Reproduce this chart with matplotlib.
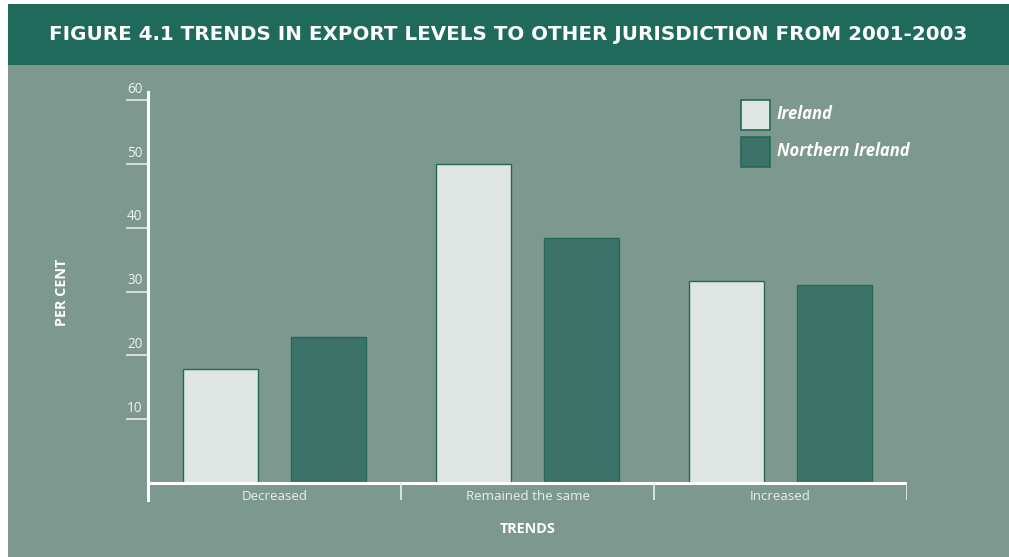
import matplotlib
matplotlib.use("Agg")
import matplotlib.pyplot as plt
from matplotlib.patches import Rectangle
from matplotlib.transforms import blended_transform_factory
import numpy as np

categories = ["Decreased", "Remained the same", "Increased"]
ireland = [17.8, 50.0, 31.6]
northern_ireland = [22.8, 38.4, 31.0]
series_names = ["Ireland", "Northern Ireland"]
yticks = [10, 20, 30, 40, 50, 60]
title = "FIGURE 4.1 TRENDS IN EXPORT LEVELS TO OTHER JURISDICTION FROM 2001-2003"

W, H = 1009, 557
fig = plt.figure(figsize=(W / 100, H / 100), dpi=100)
fig.patch.set_facecolor("white")

panel = "#7d998f"
header = "#1f6a5b"
light = "#dfe5e2"
dark = "#3c7268"
edge = "#23695a"
font = "Open Sans"

def fx(px):
    return px / W

def fy(py):
    return 1 - py / H

# background panel and header
fig.add_artist(Rectangle((fx(8), 0), 1 - fx(8), fy(4), transform=fig.transFigure,
                         facecolor=panel, edgecolor="none", zorder=0))
fig.add_artist(Rectangle((fx(8), fy(65)), 1 - fx(8), fy(4) - fy(65), transform=fig.transFigure,
                         facecolor=header, edgecolor="none", zorder=0))
fig.text(fx(508), fy(34), title, ha="center", va="center", color="white",
         fontsize=14.3, fontweight="bold", family="DejaVu Sans")

# axes
ax = fig.add_axes([fx(148), fy(500), fx(907) - fx(148), fy(92) - fy(500)])
ax.set_facecolor("none")
ax.set_xlim(-0.5, 2.5)
ax.set_ylim(-2.67, 61.26)
for s in ["top", "right", "bottom"]:
    ax.spines[s].set_visible(False)
ax.spines["left"].set_color("white")
ax.spines["left"].set_linewidth(2.2)
ax.set_xticks([])
ax.set_yticks([])

x = np.arange(len(categories))
bw = 0.295
off = 0.213
ax.bar(x - off, ireland, bw, color=light, edgecolor=edge, linewidth=1.0, zorder=2)
ax.bar(x + off, northern_ireland, bw, color=dark, edgecolor=edge, linewidth=1.0, zorder=2)

# x baseline and category separators
ax.plot([-0.5, 2.5], [0, 0], color="white", lw=2.2, zorder=3, solid_capstyle="butt")
for b in [0.5, 1.5, 2.5]:
    ax.plot([b, b], [-2.67, 0], color="#e8eeeb", lw=1.2, zorder=3)
for i, c in enumerate(categories):
    ax.text(i, -2.1, c, ha="center", va="center", color="#e8eeeb", fontsize=9.6, family=font)

# y ticks drawn as short lines with labels above
trans = blended_transform_factory(fig.transFigure, ax.transData)
for t in yticks:
    ax.plot([fx(127), fx(147)], [t, t], transform=trans, color="#dfe5e2", lw=1.3, clip_on=False)
    ax.text(fx(127), t + 0.5, str(t), transform=trans, ha="left", va="bottom",
            color="#eef2f0", fontsize=9.8, family=font)

fig.text(fx(528), fy(529), "TRENDS", ha="center", va="center", color="white",
         fontsize=10.4, fontweight="bold", family=font)
fig.text(fx(62), fy(292), "PER CENT", ha="center", va="center", color="white",
         fontsize=10.4, fontweight="bold", rotation=90, family=font)

# legend
for (yy, col, name) in [(100, light, series_names[0]), (137, dark, series_names[1])]:
    fig.add_artist(Rectangle((fx(741), fy(yy + 30)), fx(770) - fx(741), fy(yy) - fy(yy + 30),
                             transform=fig.transFigure, facecolor=col, edgecolor=edge, lw=1.2))
    fig.text(fx(777), fy(yy + 14), name, ha="left", va="center", color="white",
             fontsize=12, fontweight="bold", style="italic", family=font)

fig.savefig("out.png", dpi=100, facecolor="white")
